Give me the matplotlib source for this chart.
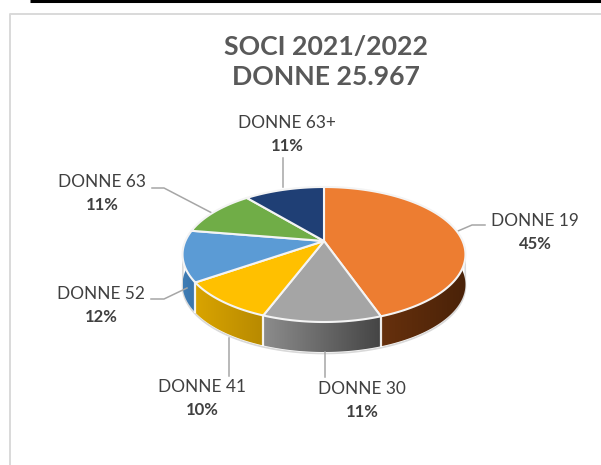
#!/usr/bin/env python3
"""Perspective 3D pie of members by group."""

import matplotlib

matplotlib.use("Agg")
import matplotlib.pyplot as plt
import numpy as np
from matplotlib.colors import to_rgb
from matplotlib.patches import Polygon

LABELS = ["DONNE 19", "DONNE 30", "DONNE 41", "DONNE 52", "DONNE 63", "DONNE 63+"]
SHARES = [44.6, 11.2, 9.6, 12.2, 11.3, 11.1]
TOP_COLORS = ["#ED7D31", "#A5A5A5", "#FFC000", "#5B9BD5", "#70AD47", "#1F3F75"]
SIDE_LEFT = ["#7A3A10", "#8C8C8C", "#D9A400", "#3F7DB5", "#4E7A30", "#1A2F55"]
SIDE_RIGHT = ["#4A2208", "#454545", "#B88A00", "#3A74AA", "#4E7A30", "#1A2F55"]

TEXT = "#404040"
CX, CY = 324.0, 241.0
A, B, K = 138.6, 64.8, 0.2
DEPTH = 30.0

plt.rcParams["font.family"] = ["Lato", "DejaVu Sans"]


def project(theta):
    """Pie angle (clockwise from 12 o'clock) to pixel position on the top face."""
    u, v = np.sin(theta), np.cos(theta)
    w = 1 + K * v
    return CX + A * u / w, CY - B * v / w


fig = plt.figure(figsize=(6.01, 4.65), dpi=100)
ax = fig.add_axes([0, 0, 1, 1])
ax.axis("off")

# page rule and chart frame
ax.plot([30, 601], [1, 1], color="black", lw=2.2, solid_capstyle="butt")
ax.plot([9.5, 9.5, 601], [465, 14.5, 14.5], color="#D9D9D9", lw=1.4)

edges = np.cumsum([0] + SHARES) / sum(SHARES) * 2 * np.pi

# soft rim under the body
t = np.linspace(0, 2 * np.pi, 400)
rx, ry = project(t)
ry_low = ry + np.where(ry > 250, DEPTH, 0)
ax.plot(rx, ry_low + 1.5, color="#D9D9D9", lw=1.2, zorder=1)

# sides first, with a horizontal gradient clipped to each wall
for i in range(len(SHARES)):
    t = np.linspace(edges[i], edges[i + 1], 120)
    x, y = project(t)
    poly = np.r_[np.c_[x, y], np.c_[x[::-1], y[::-1] + DEPTH]]
    patch = Polygon(poly, closed=True, fc="none", ec="none", zorder=2)
    ax.add_patch(patch)
    c0 = np.array(to_rgb(SIDE_LEFT[i]))
    c1 = np.array(to_rgb(SIDE_RIGHT[i]))
    grad = np.linspace(0, 1, 64)[None, :, None]
    img = c0[None, None, :] * (1 - grad) + c1[None, None, :] * grad
    im = ax.imshow(
        img,
        extent=[x.min(), x.max(), y.max() + DEPTH, y.min()],
        aspect="auto",
        zorder=2,
        interpolation="bilinear",
    )
    im.set_clip_path(patch)

# white seams on the walls, where a slice boundary faces the viewer
for e in edges[1:4]:
    x, y = project(e)
    ax.plot([x, x], [y, y + DEPTH], color="white", lw=1.6, alpha=0.9, zorder=3)

# top face
for i in range(len(SHARES)):
    t = np.linspace(edges[i], edges[i + 1], 120)
    x, y = project(t)
    verts = np.r_[[[CX, CY]], np.c_[x, y]]
    ax.add_patch(
        Polygon(verts, closed=True, fc=TOP_COLORS[i], ec="#F4F4F4", lw=1.5,
                joinstyle="round", zorder=4)
    )

# leader lines
LEADERS = [
    [(458, 231), (472, 225), (485, 225)],
    [(325, 352), (325, 377)],
    [(229, 338), (229, 376)],
    [(187, 288), (164, 299), (151, 299)],
    [(212, 213), (164, 188), (152, 188)],
    [(283, 187), (283, 158)],
]
for pts in LEADERS:
    xs, ys = zip(*pts)
    ax.plot(xs, ys, color="#A6A6A6", lw=1.1, zorder=3)

# labels
LABEL_POS = [(535, 232), (362, 400), (202, 398), (101, 305), (102, 193), (287, 134)]
for name, share, (lx, ly) in zip(LABELS, SHARES, LABEL_POS):
    ax.text(lx, ly - 11, name, ha="center", va="center", fontsize=12.4, color=TEXT)
    ax.text(lx, ly + 11.5, f"{share:.0f}%", ha="center", va="center", fontsize=12,
            fontweight="bold", color=TEXT)

ax.text(326, 47, "SOCI 2021/2022", ha="center", va="center", fontsize=19.2,
        fontweight="bold", color="#595959")
ax.text(326, 77, "DONNE 25.967", ha="center", va="center", fontsize=19.2,
        fontweight="bold", color="#595959")

ax.set_xlim(0, 601)
ax.set_ylim(465, 0)
fig.savefig("out.png", dpi=100)
